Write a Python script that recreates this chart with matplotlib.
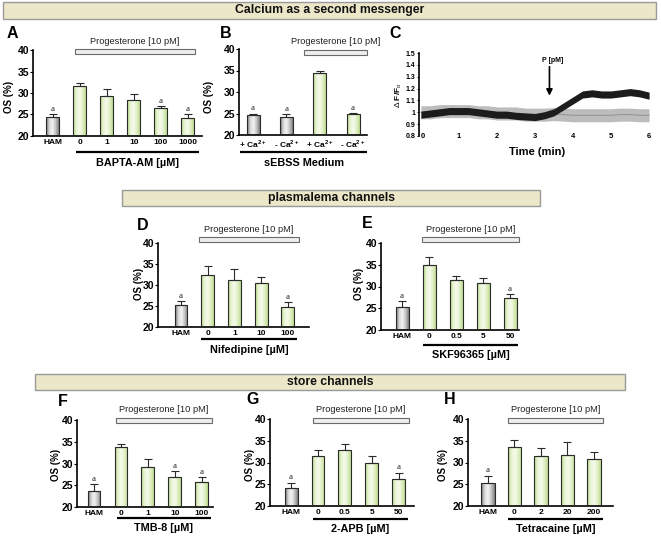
import numpy as np
import matplotlib
matplotlib.use("Agg")
import matplotlib.pyplot as plt
from matplotlib.patches import Rectangle
from matplotlib.transforms import blended_transform_factory
from matplotlib.colors import LinearSegmentedColormap

plt.rcParams['font.family'] = ['Liberation Sans', 'DejaVu Sans']
plt.rcParams['mathtext.fontset'] = 'custom'
plt.rcParams['mathtext.rm'] = 'Liberation Sans'
plt.rcParams['mathtext.bf'] = 'Liberation Sans:bold'

# ---------------- data ----------------
A_labels = ['HAM', '0', '1', '10', '100', '1000']
A_mean = [24.5, 31.7, 29.3, 28.4, 26.4, 24.1]
A_err = [0.6, 0.6, 1.6, 1.3, 0.5, 1.0]
A_gray = [True, False, False, False, False, False]
A_sig = [True, False, False, False, True, True]

B_labels = [r'+ Ca$^{\mathbf{2+}}$', r'- Ca$^{\mathbf{2+}}$', r'+ Ca$^{\mathbf{2+}}$', r'- Ca$^{\mathbf{2+}}$']
B_mean = [24.6, 24.2, 34.4, 24.9]
B_err = [0.4, 0.7, 0.6, 0.3]
B_gray = [True, True, False, False]
B_sig = [True, True, False, True]

D_labels = ['HAM', '0', '1', '10', '100']
D_mean = [25.2, 32.4, 31.2, 30.4, 24.8]
D_err = [1.0, 2.2, 2.7, 1.4, 1.2]
D_sig = [True, False, False, False, True]

E_labels = ['HAM', '0', '0.5', '5', '50']
E_mean = [25.2, 35.0, 31.4, 30.8, 27.4]
E_err = [1.4, 1.7, 1.0, 1.2, 0.8]
E_sig = [True, False, False, False, True]

F_labels = ['HAM', '0', '1', '10', '100']
F_mean = [23.7, 33.8, 29.2, 27.0, 25.7]
F_err = [1.5, 0.7, 1.9, 1.2, 1.1]
F_sig = [True, False, False, True, True]

G_labels = ['HAM', '0', '0.5', '5', '50']
G_mean = [24.2, 31.6, 32.9, 30.0, 26.3]
G_err = [1.2, 1.3, 1.3, 1.5, 1.4]
G_sig = [True, False, False, False, True]

H_labels = ['HAM', '0', '2', '20', '200']
H_mean = [25.4, 33.5, 31.5, 31.8, 30.8]
H_err = [1.6, 1.6, 1.9, 2.8, 1.6]
H_sig = [True, False, False, False, False]

HAM_first = [True, False, False, False, False]

y_ticks = [20, 25, 30, 35, 40]

# Panel C calcium traces (time in min, band centre and half-width)
trace_t = [0, 0.25, 0.5, 0.75, 1, 1.25, 1.5, 1.75, 2, 2.25, 2.5, 2.75, 3,
           3.25, 3.5, 3.75, 4, 4.25, 4.5, 4.75, 5, 5.25, 5.5, 5.75, 6]
black_mid = [0.98, 0.99, 1.00, 1.01, 1.01, 1.01, 1.00, 0.99, 0.98, 0.98, 0.97, 0.965, 0.96,
             0.975, 1.00, 1.05, 1.10, 1.15, 1.16, 1.15, 1.15, 1.16, 1.17, 1.16, 1.14]
black_half = [0.03] * 25
gray_mid = [1.00, 1.00, 1.01, 1.01, 1.01, 1.01, 1.00, 1.00, 0.99, 0.99, 0.99, 0.98, 0.98,
            0.98, 0.985, 0.98, 0.975, 0.975, 0.975, 0.975, 0.975, 0.98, 0.98, 0.975, 0.975]
gray_half = [0.055] * 25
C_yticks = [0.8, 0.9, 1.0, 1.1, 1.2, 1.3, 1.4, 1.5]
C_yticklabels = ['0.8', '0.9', '1', '1.1', '1.2', '1.3', '1.4', '1.5']
C_xticks = [0, 1, 2, 3, 4, 5, 6]
P_time = 3.38

# ---------------- figure ----------------
W, H = 661, 538
fig = plt.figure(figsize=(W / 100, H / 100), dpi=100)


def fx(px):
    return px / W


def fy(py):
    return 1 - py / H


def add_ax(l, t, r, b):
    return fig.add_axes([fx(l), fy(b), fx(r - l), (b - t) / H])


def header(l, t, r, b, text):
    fig.patches.append(Rectangle((fx(l), fy(b)), fx(r - l), (b - t) / H,
                                 transform=fig.transFigure, facecolor='#ece7c8',
                                 edgecolor='#9a9a9a', lw=1.0))
    fig.text(fx((l + r) / 2), fy((t + b) / 2), text, ha='center', va='center',
             fontsize=8.8, fontweight='bold', color='#111111')


header(3, 2, 656, 19, 'Calcium as a second messenger')
header(122, 190, 540, 206, 'plasmalema channels')
header(35, 374, 625, 390, 'store channels')

green_cmap = LinearSegmentedColormap.from_list('g', ['#b2d582', '#e9f4d3', '#f6fbec', '#e2f0c8', '#bcdb8e'])
gray_cmap = LinearSegmentedColormap.from_list('k', ['#6e6e6e', '#d8d8d8', '#f4f4f4', '#c4c4c4', '#7e7e7e'])
grad = np.linspace(0, 1, 64).reshape(1, -1)


def bar_panel(box, xlim, width, labels, means, errs, gray, sig, letter, letter_xy,
              ylab_xy, prog, prog_py, prog_text_py, line, line_py, drug, drug_py):
    l, t, r, b = box
    ax = add_ax(l, t, r, b)
    x = np.arange(len(means))
    heights = np.array(means) - 20
    bars = ax.bar(x, heights, bottom=20, width=width, facecolor='none',
                  edgecolor='#2a2a2a', lw=0.8, zorder=3)
    for p, g in zip(bars.patches, gray):
        x0, y0 = p.get_x(), p.get_y()
        im = ax.imshow(grad, extent=[x0, x0 + p.get_width(), y0, y0 + p.get_height()],
                       aspect='auto', cmap=gray_cmap if g else green_cmap, zorder=2.5,
                       interpolation='bilinear')
        im.set_clip_path(p)
    ax.errorbar(x, means, yerr=[np.zeros(len(errs)), errs], fmt='none', ecolor='#2a2a2a',
                elinewidth=0.8, capsize=3, capthick=0.8, zorder=2.8)
    for xi, m, e, s in zip(x, means, errs, sig):
        if s:
            ax.text(xi, m + e + 0.25, 'a', ha='center', va='bottom', fontsize=6.5,
                    family=['Liberation Serif', 'DejaVu Serif'], color='#222222')
    ax.set_xlim(*xlim)
    ax.set_ylim(20, 40)
    ax.set_yticks(y_ticks)
    ax.set_xticks(x)
    ax.set_xticklabels(labels)
    ax.tick_params(axis='x', length=0, pad=2.5, labelsize=6)
    ax.tick_params(axis='y', length=2, width=0.8, pad=0.5, labelsize=7.5)
    for lab in ax.get_xticklabels() + ax.get_yticklabels():
        lab.set_fontweight('bold')
    for s in ['top', 'right']:
        ax.spines[s].set_visible(False)
    for s in ['left', 'bottom']:
        ax.spines[s].set_linewidth(1.2)
    tr = blended_transform_factory(ax.transData, fig.transFigure)
    ph = 5
    ax.add_patch(Rectangle((prog[0], fy(prog_py + ph / 2)), prog[1] - prog[0], ph / H,
                           transform=tr, clip_on=False, facecolor='#eeeeee',
                           edgecolor='#6a6a6a', lw=0.8))
    ax.text((prog[0] + prog[1]) / 2, fy(prog_text_py), 'Progesterone [10 pM]', transform=tr,
            ha='center', va='center', fontsize=6.7, color='#222222')
    ax.plot(line, [fy(line_py)] * 2, transform=tr, color='black', lw=1.6, clip_on=False,
            solid_capstyle='butt')
    ax.text((line[0] + line[1]) / 2, fy(drug_py), drug, transform=tr, ha='center',
            va='center', fontsize=7.8, fontweight='bold')
    fig.text(fx(letter_xy[0]), fy(letter_xy[1]), letter, ha='center', va='center',
             fontsize=11.5, fontweight='bold')
    fig.text(fx(ylab_xy[0]), fy(ylab_xy[1]), 'OS (%)', ha='center', va='center',
             rotation=90, fontsize=7, fontweight='bold')
    return ax


bar_panel((33, 50, 202, 136), (-0.74, 5.52), 0.48, A_labels, A_mean, A_err, A_gray, A_sig,
          'A', (12, 33), (9, 97), (0.81, 5.26), 51.5, 42, (0.85, 5.41), 152,
          'BAPTA-AM [µM]', 163)
bar_panel((239, 49, 367, 135), (-0.42, 3.42), 0.39, B_labels, B_mean, B_err, B_gray, B_sig,
          'B', (226, 33), (209, 97), (1.53, 3.42), 52, 42, (-0.39, 3.42), 152,
          'sEBSS Medium', 163)
bar_panel((158, 243, 309, 327), (-0.86, 4.79), 0.48, D_labels, D_mean, D_err, HAM_first, D_sig,
          'D', (143, 225), (139, 284), (0.67, 4.41), 239.5, 229, (0.75, 4.34), 339,
          'Nifedipine [µM]', 350)
bar_panel((381, 243, 519, 330), (-0.78, 4.33), 0.48, E_labels, E_mean, E_err, HAM_first, E_sig,
          'E', (367, 224), (359, 284), (0.74, 4.33), 239.5, 229, (0.78, 4.30), 345,
          'SKF96365 [µM]', 355)
bar_panel((77, 420, 213, 507), (-0.63, 4.41), 0.48, F_labels, F_mean, F_err, HAM_first, F_sig,
          'F', (63, 401), (56, 465), (0.81, 4.37), 420.5, 409, (0.85, 4.33), 518,
          'TMB-8 [µM]', 528)
bar_panel((270, 419, 414, 506), (-0.78, 4.56), 0.48, G_labels, G_mean, G_err, HAM_first, G_sig,
          'G', (253, 400), (250, 465), (0.81, 4.37), 420, 409, (0.81, 4.33), 519,
          '2-APB [µM]', 529)
bar_panel((468, 419, 613, 506), (-0.75, 4.72), 0.50, H_labels, H_mean, H_err, HAM_first, H_sig,
          'H', (450, 400), (443, 465), (0.75, 4.34), 420, 409, (0.75, 4.34), 519,
          'Tetracaine [µM]', 529)

# ---------------- panel C ----------------
axc = add_ax(419, 53, 651, 136)
tt = np.array(trace_t)
gm, gh = np.array(gray_mid), np.array(gray_half)
bm, bh = np.array(black_mid), np.array(black_half)
axc.fill_between(tt, gm - gh, gm + gh, color='#bcbcbc', lw=0, zorder=2)
axc.plot(tt, gm, color='#8a8a8a', lw=0.6, zorder=2.1)
axc.fill_between(tt, bm - bh, bm + bh, color='#1c1c1c', lw=0, zorder=3)
axc.set_xlim(-0.05, 6.05)
axc.set_ylim(0.8, 1.5)
axc.set_yticks(C_yticks)
axc.set_yticklabels(C_yticklabels)
axc.tick_params(axis='y', length=1.5, width=0.6, pad=1, labelsize=5)
for lab in axc.get_yticklabels():
    lab.set_fontweight('bold')
axc.set_xticks([])
for s in ['top', 'right', 'bottom']:
    axc.spines[s].set_visible(False)
axc.spines['left'].set_linewidth(1.2)
for xt in C_xticks:
    axc.text(xt, 0.8, str(xt), ha='left' if xt == 0 else 'center', va='center', fontsize=5.5,
             fontweight='bold', clip_on=False)
axc.annotate('', xy=(P_time, 1.14), xytext=(P_time, 1.385),
             arrowprops=dict(arrowstyle='-|>', color='black', lw=1.2, mutation_scale=9,
                             shrinkA=0, shrinkB=0))
axc.text(P_time + 0.08, 1.44, 'P [pM]', ha='center', va='center', fontsize=5, fontweight='bold')
fig.text(fx(537), fy(152), 'Time (min)', ha='center', va='center', fontsize=8,
         fontweight='bold')
fig.text(fx(399), fy(95), r'$\Delta$ F/F$_\mathrm{o}$', ha='center', va='center',
         rotation=90, fontsize=6, fontweight='bold')
fig.text(fx(395), fy(33), 'C', ha='center', va='center', fontsize=11.5, fontweight='bold')

fig.savefig('out.png', dpi=100, facecolor='white')
